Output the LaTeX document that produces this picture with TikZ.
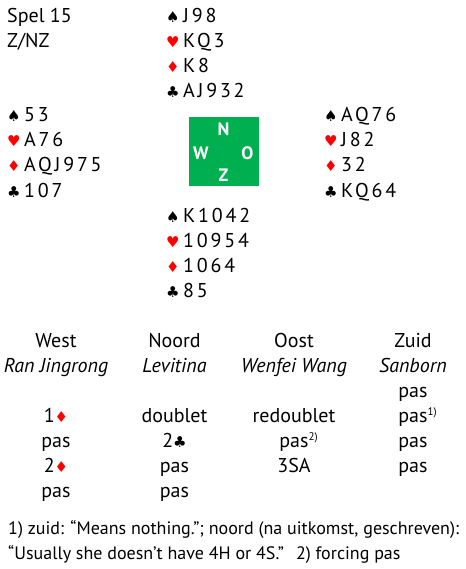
\documentclass[tikz,border=0pt]{standalone}
\usepackage{fontspec}
\setmainfont{PT Sans}
\newfontfamily\suitfont{DejaVu Sans}
\newfontfamily\cardfont[LetterSpace=14]{PT Sans}
\usetikzlibrary{positioning}
\definecolor{boxgreen}{HTML}{00B050}
\definecolor{suitred}{HTML}{FF0000}
\newcommand\Sp{{\suitfont\fontsize{15}{15}\selectfont\char"2660}}
\newcommand\Hh{{\color{suitred}\suitfont\fontsize{15}{15}\selectfont\char"2665}}
\newcommand\Di{{\color{suitred}\suitfont\fontsize{15}{15}\selectfont\char"2666}}
\newcommand\Cl{{\suitfont\fontsize{15}{15}\selectfont\char"2663}}
\newcommand\fn[1]{\rlap{\raisebox{7pt}{\fontsize{11}{11}\selectfont #1)}}}
\tikzset{
  txt/.style={inner sep=0pt, font=\fontsize{20}{25}\selectfont},
  lbl/.style={txt, anchor=base west},
  suit/.style={inner sep=0pt, anchor=base west},
  cards/.style={txt, anchor=base west, font=\cardfont\fontsize{20}{25}\selectfont},
  bid/.style={txt, anchor=base},
  player/.style={bid, font=\itshape\fontsize{20}{25}\selectfont},
  compass/.style={text=white, inner sep=0pt, font=\bfseries\fontsize{18}{18}\selectfont},
  note/.style={inner sep=0pt, anchor=base west, font=\fontsize{18}{25}\selectfont},
}
% name, x suit, x cards, y first line, spades, hearts, diamonds, clubs
\newcommand\hand[8]{%
  \node[suit] (#1S) at (#2,#4) {\Sp};
  \node[cards] (#1s) at (#3,#4) {#5};
  \node[suit] (#1H) at (#2,#4+25) {\Hh};
  \node[cards] (#1h) at (#3,#4+25) {#6};
  \node[suit] (#1D) at (#2,#4+50) {\Di};
  \node[cards] (#1d) at (#3,#4+50) {#7};
  \node[suit] (#1C) at (#2,#4+75) {\Cl};
  \node[cards] (#1c) at (#3,#4+75) {#8};
}

\begin{document}
\begin{tikzpicture}[x=1pt, y=-1pt]
\useasboundingbox (0,0) rectangle (465,569);

\node[lbl] (spel) at (7,22.5) {Spel 15};
\node[lbl] (gever) at (7,47.5) {Z/NZ};

% handen
\hand{n}{166}{183}{22.5}{J98}{KQ3}{K8}{AJ932}
\hand{w}{7}{24}{122}{53}{A76}{AQJ975}{107}
\hand{o}{324}{341}{122}{AQ76}{J82}{32}{KQ64}
\hand{z}{166}{183}{222}{K1042}{10954}{1064}{85}

% tafel
\fill[boxgreen] (189,117) rectangle (259,186);
\node[compass] (N) at (223.5,129) {N};
\node[compass] (W) at (201,153) {W};
\node[compass] (O) at (247.5,153) {O};
\node[compass] (Z) at (223.5,175.5) {Z};

% bieding
\node[bid] (hw) at (56,347.5) {West};
\node[bid] (hn) at (174.5,347.5) {Noord};
\node[bid] (ho) at (294,347.5) {Oost};
\node[bid] (hz) at (413,347.5) {Zuid};
\node[player] (pw) at (56,372.5) {Ran Jingrong};
\node[player] (pn) at (174.5,372.5) {Levitina};
\node[player] (po) at (294,372.5) {Wenfei Wang};
\node[player] (pz) at (413,372.5) {Sanborn};

\node[bid] (z1) at (413,397.5) {pas};
\node[bid] (w2) at (56,422.5) {1\Di};
\node[bid] (n2) at (174.5,422.5) {doublet};
\node[bid] (o2) at (294,422.5) {redoublet};
\node[bid] (z2) at (413,422.5) {pas\fn{1}};
\node[bid] (w3) at (56,447.5) {pas};
\node[bid] (n3) at (174.5,447.5) {2\Cl};
\node[bid] (o3) at (294,447.5) {pas\fn{2}};
\node[bid] (z3) at (413,447.5) {pas};
\node[bid] (w4) at (56,472.5) {2\Di};
\node[bid] (n4) at (174.5,472.5) {pas};
\node[bid] (o4) at (294,472.5) {3SA};
\node[bid] (z4) at (413,472.5) {pas};
\node[bid] (w5) at (56,497.5) {pas};
\node[bid] (n5) at (174.5,497.5) {pas};

% voetnoten
\node[note] (fn1) at (8,534.5) {1) zuid: “Means nothing.”; noord (na uitkomst, geschreven):};
\node[note] (fn2) at (8,559.5) {“Usually she doesn’t have 4H or 4S.”\hspace{12pt}2) forcing pas};
\end{tikzpicture}
\end{document}
